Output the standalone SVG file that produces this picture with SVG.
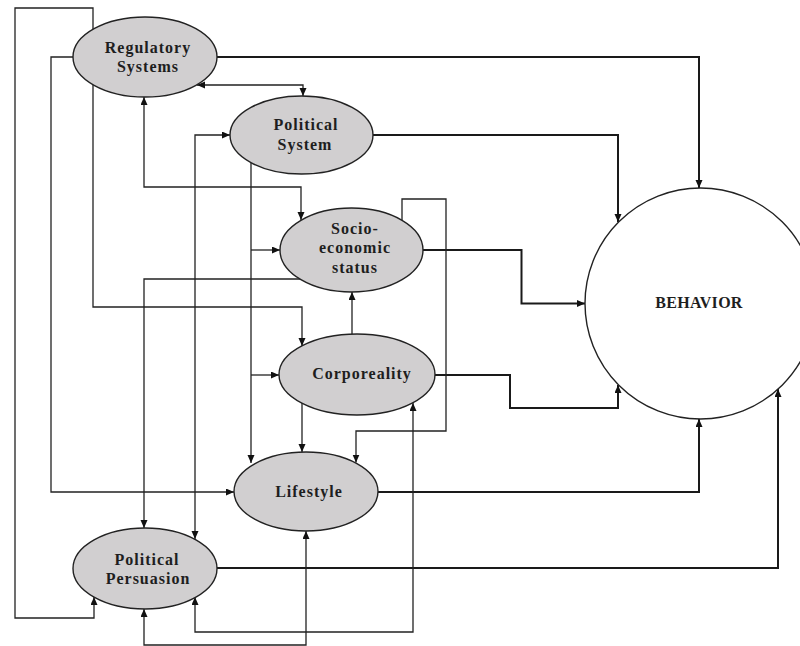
<svg xmlns="http://www.w3.org/2000/svg" width="800" height="646" viewBox="0 0 800 646">
<style>
.node{fill:#d1cfd0;stroke:#222;stroke-width:1.4}
.beh{fill:#fff;stroke:#222;stroke-width:1.4}
.lbl{font-family:"Liberation Serif","Times New Roman",serif;font-weight:bold;font-size:16px;fill:#1e1e1e;text-anchor:middle;letter-spacing:1px}
.c{fill:none;stroke:#222;stroke-width:1.3}
.cb{fill:none;stroke:#1a1a1a;stroke-width:2}
.a{marker-end:url(#ah)}
.aa{marker-start:url(#ah);marker-end:url(#ah)}
</style>
<defs>
<marker id="ah" markerUnits="userSpaceOnUse" markerWidth="9" markerHeight="8" refX="8" refY="3.5" orient="auto-start-reverse">
<path d="M0,0 L8,3.5 L0,7 z" fill="#111"/>
</marker>
</defs>
<rect width="800" height="646" fill="#fff"/>
<g id="connectors">
<path class="cb a" d="M217,57 H699 V188"/>
<path class="cb a" d="M373,135 H618 V222"/>
<path class="cb a" d="M423,250 H521.5 V303.5 H585"/>
<path class="cb a" d="M435,375 H510 V408 H618 V385"/>
<path class="cb a" d="M378,492 H699 V419"/>
<path class="cb a" d="M217,568 H778 V389"/>
<path class="c aa" d="M197,85 H303 V96"/>
<path class="c aa" d="M144,97 V187 H301 V220"/>
<path class="c a" d="M93,29 V8 H15 V618 H94 V597"/>
<path class="c a" d="M73,57 H51 V492 H234"/>
<path class="c a" d="M93,85 V307 H302 V346"/>
<path class="c aa" d="M230,135 H195 V539"/>
<path class="c a" d="M251,163 V463"/>
<path class="c a" d="M251,250 H280"/>
<path class="c a" d="M251,375 H279"/>
<path class="c a" d="M300,279 H144 V528"/>
<path class="c a" d="M402,220 V199 H446 V431 H356 V462.5"/>
<path class="c a" d="M352,334 V292"/>
<path class="c a" d="M302,403 V452"/>
<path class="c aa" d="M413,403 V632 H195 V597"/>
<path class="c aa" d="M306,531 V645 H144 V609"/>
</g>
<g id="regulatory">
<ellipse class="node" cx="145" cy="57" rx="72" ry="40"/>
<text class="lbl" x="148" y="53">Regulatory</text>
<text class="lbl" x="148" y="72">Systems</text>
</g>
<g id="political-system">
<ellipse class="node" cx="301.5" cy="135" rx="71.5" ry="39"/>
<text class="lbl" x="306" y="130">Political</text>
<text class="lbl" x="305" y="150">System</text>
</g>
<g id="socioeconomic">
<ellipse class="node" cx="351.5" cy="250" rx="71.5" ry="42"/>
<text class="lbl" x="355" y="234">Socio-</text>
<text class="lbl" x="355" y="253">economic</text>
<text class="lbl" x="355" y="273">status</text>
</g>
<g id="corporeality">
<ellipse class="node" cx="357" cy="374.5" rx="78" ry="40.5"/>
<text class="lbl" x="362" y="379">Corporeality</text>
</g>
<g id="lifestyle">
<ellipse class="node" cx="306" cy="491.5" rx="72" ry="39.5"/>
<text class="lbl" x="309" y="497">Lifestyle</text>
</g>
<g id="political-persuasion">
<ellipse class="node" cx="145" cy="568.5" rx="72" ry="40.5"/>
<text class="lbl" x="147" y="565">Political</text>
<text class="lbl" x="148" y="584">Persuasion</text>
</g>
<g id="behavior">
<circle class="beh" cx="700.5" cy="303.5" r="115.5"/>
<text class="lbl" x="699" y="308" style="letter-spacing:0.3px">BEHAVIOR</text>
</g>
</svg>
